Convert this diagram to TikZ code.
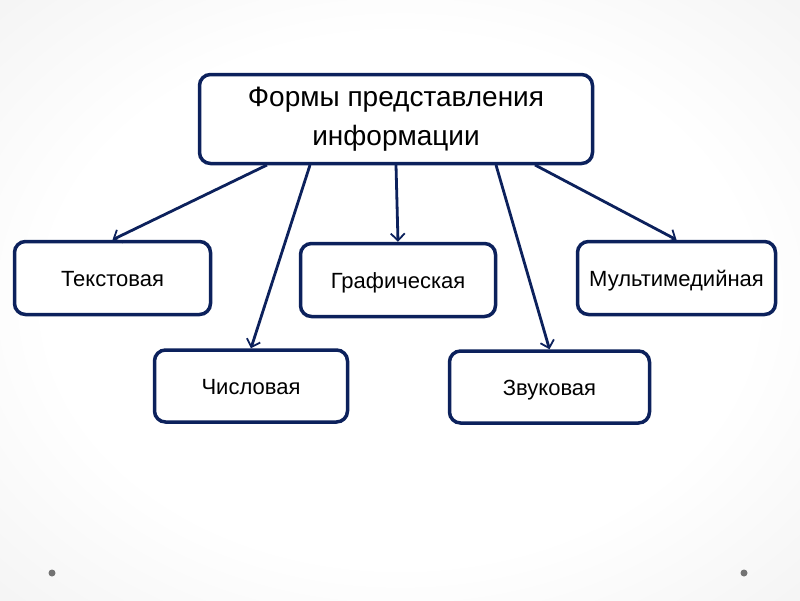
\documentclass[tikz,border=0pt]{standalone}
\usepackage{fontspec}
\setmainfont{Liberation Sans}
\usetikzlibrary{arrows.meta}
\definecolor{navy}{RGB}{12,33,92}
\pgfdeclareradialshading{slide}{\pgfpoint{0bp}{0bp}}{color(0bp)=(white);color(22bp)=(white);color(45bp)=(black!7);color(71bp)=(black!16)}

\begin{document}
\begin{tikzpicture}[x=1pt,y=-1pt,
    box/.style={draw=navy,line width=3.5pt,rounded corners=11pt,fill=white,align=center,font=\fontsize{22}{26}\selectfont},
    leaf/.style={box,text height=22pt,text depth=5pt},
    link/.style={draw=navy,line width=2.8pt,-{Straight Barb[length=7pt,width=14pt,line width=1.8pt]}}]
\shade[shading=slide](0,0)rectangle(800,600);
\useasboundingbox (0,0) rectangle (800,600);
\fill[black!55](52,573)circle(3.5);
\fill[black!55](744,573)circle(3.5);
\node[box,minimum width=393,minimum height=89,font=\fontsize{28}{39}\selectfont](forms)at(396,119){Формы представления\\информации};
\node[leaf,minimum width=196,minimum height=73](text)at(112.5,278){Текстовая};
\node[leaf,minimum width=195,minimum height=73](graph)at(398,280){Графическая};
\node[leaf,minimum width=198,minimum height=73](multi)at(676.5,278){Мультимедийная};
\node[leaf,minimum width=193,minimum height=72](num)at(251,386){Числовая};
\node[leaf,minimum width=200,minimum height=72](sound)at(549.5,387){Звуковая};
\coordinate(f1)at(267,165);
\coordinate(f2)at(310,165);
\coordinate(f3)at(396,165);
\coordinate(f4)at(496,165);
\coordinate(f5)at(535,165);
\draw[link](f1)--(text.north);
\draw[link](f2)--(num.north);
\draw[link](f3)--(graph.north);
\draw[link](f4)--(sound.north);
\draw[link](f5)--(multi.north);
\end{tikzpicture}
\end{document}
